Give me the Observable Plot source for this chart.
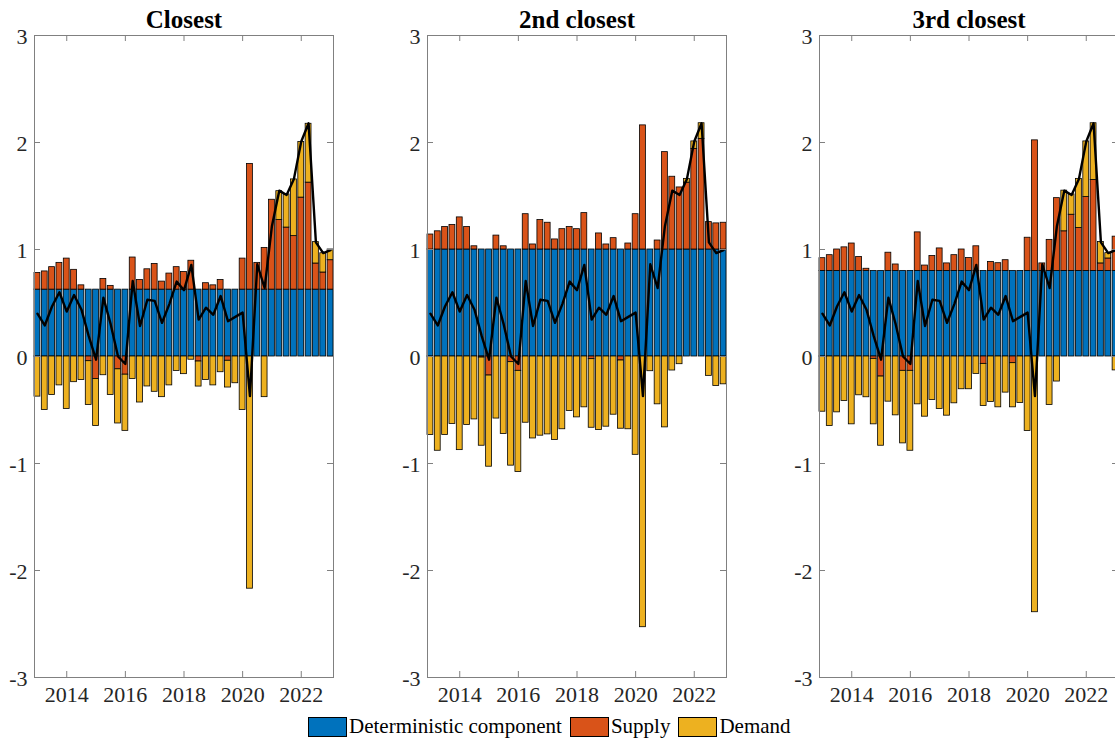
<!DOCTYPE html>
<html>
<head>
<meta charset="utf-8">
<script src="https://cdn.jsdelivr.net/npm/d3@7"></script>
<script src="https://cdn.jsdelivr.net/npm/@observablehq/plot@0.6"></script>
<style>
  body { margin: 0; overflow: hidden; background: #fff; }
  #fig { position: relative; width: 1115px; height: 740px; overflow: hidden; font-family: "Liberation Serif", "Times New Roman", serif; }
  .panel { position: absolute; top: 0; }
  #legend { position: absolute; left: 308px; top: 716px; display: flex; align-items: center; font-size: 21px; line-height: 21px; color: #000; white-space: nowrap; }
  .sw { width: 37px; height: 18px; border: 1px solid #000; }
  .lab { margin-left: 2px; margin-right: 8px; }
</style>
</head>
<body>
<div id="fig"></div>
<script>
// ---- data ----
const quarters = ["2013Q1","2013Q2","2013Q3","2013Q4","2014Q1","2014Q2","2014Q3","2014Q4",
  "2015Q1","2015Q2","2015Q3","2015Q4","2016Q1","2016Q2","2016Q3","2016Q4",
  "2017Q1","2017Q2","2017Q3","2017Q4","2018Q1","2018Q2","2018Q3","2018Q4",
  "2019Q1","2019Q2","2019Q3","2019Q4","2020Q1","2020Q2","2020Q3","2020Q4",
  "2021Q1","2021Q2","2021Q3","2021Q4","2022Q1","2022Q2","2022Q3","2022Q4","2023Q1"];

const total = [0.40, 0.29, 0.47, 0.60, 0.42, 0.575, 0.44, 0.19, -0.03, 0.55,
  0.30, 0.00, -0.07, 0.705, 0.285, 0.53, 0.52, 0.315, 0.49, 0.70,
  0.62, 0.856, 0.345, 0.456, 0.39, 0.565, 0.33, 0.37, 0.41, -0.37,
  0.862, 0.64, 1.22, 1.55, 1.51, 1.66, 2.01, 2.18, 1.066, 0.966, 0.994];

const titles = ["Closest", "2nd closest", "3rd closest"];
const deterministicLevels = [0.625, 1.0, 0.8];

const supplyClosest = [0.156, 0.17, 0.21, 0.25, 0.29, 0.185, 0.04, -0.044, -0.21, 0.10,
  0.035, -0.12, -0.17, 0.30, 0.09, 0.19, 0.24, 0.075, 0.15, 0.21,
  0.165, 0.27, -0.047, 0.06, 0.04, 0.09, -0.04, 0, 0.29, 1.175,
  0.25, 0.39, 0.84, 0.65, 0.58, 0.50, 0.86, 1.00, 0.244, 0.16, 0.275];
const demandClosest = [-0.375, -0.50, -0.36, -0.27, -0.49, -0.24, -0.22, -0.41, -0.44, -0.175,
  -0.36, -0.506, -0.525, -0.21, -0.43, -0.28, -0.33, -0.38, -0.27, -0.135,
  -0.165, -0.03, -0.234, -0.22, -0.27, -0.147, -0.25, -0.25, -0.50, -2.17,
  0, -0.38, 0, 0.27, 0.31, 0.53, 0.52, 0.55, 0.20, 0.18, 0.10];

const supply2nd = [0.14, 0.17, 0.21, 0.23, 0.30, 0.21, 0.03, -0.01, -0.178, 0.13,
  0.03, -0.053, -0.134, 0.33, 0.047, 0.275, 0.25, 0.094, 0.19, 0.21,
  0.19, 0.34, -0.025, 0.15, 0.047, 0.106, -0.0375, 0.056, 0.33, 1.16,
  0, 0.084, 0.91, 0.68, 0.58, 0.625, 0.94, 1.034, 0.256, 0.244, 0.25];
const demand2nd = [-0.734, -0.881, -0.734, -0.631, -0.875, -0.64, -0.588, -0.824, -0.852, -0.58,
  -0.725, -0.967, -0.946, -0.619, -0.766, -0.74, -0.728, -0.78, -0.68, -0.51,
  -0.569, -0.475, -0.641, -0.6875, -0.656, -0.544, -0.6375, -0.68, -0.919, -2.53,
  -0.1375, -0.447, -0.6625, -0.131, -0.072, 0.035, 0.07, 0.146, -0.181, -0.275, -0.26];

const supply3rd = [0.119, 0.147, 0.20, 0.22, 0.256, 0.13, 0.02, -0.022, -0.1875, 0.17,
  0.06, -0.134, -0.134, 0.36, 0.05, 0.14, 0.21, 0.07, 0.147, 0.20,
  0.12, 0.23, -0.069, 0.084, 0.072, 0.10, -0.0625, 0, 0.31, 1.22,
  0.07, 0.29, 0.68, 0.37, 0.525, 0.40, 0.69, 0.85, 0.07, 0.116, 0.32];
const demand3rd = [-0.516, -0.65, -0.522, -0.416, -0.634, -0.3625, -0.381, -0.612, -0.6465, -0.422,
  -0.55, -0.678, -0.747, -0.447, -0.5625, -0.406, -0.49, -0.553, -0.4375, -0.306,
  -0.306, -0.1625, -0.3935, -0.425, -0.475, -0.3375, -0.4125, -0.434, -0.697, -2.39,
  0, -0.453, -0.234, 0.38, 0.19, 0.46, 0.52, 0.53, 0.20, 0.05, -0.13];

const seriesNames = ["Deterministic component", "Supply", "Demand"];
const seriesColors = ["#0072BD", "#D95319", "#EDB120"];
const yTicks = [-3, -2, -1, 0, 1, 2, 3];
const xTicks = [2014, 2016, 2018, 2020, 2022];

const supplies = [supplyClosest, supply2nd, supply3rd];
const demands = [demandClosest, demand2nd, demand3rd];

// ---- drawing ----
const toYear = q => +q.slice(0, 4) + (+q.slice(5) - 1) / 4;
const axisColor = "#808080";
const labelColor = "#262626";
const serif = '"Liberation Serif", "Times New Roman", serif';

function makePanel(title, det, sup, dem) {
  const rows = [];
  quarters.forEach((q, i) => {
    const t = toYear(q);
    [[seriesNames[0], det], [seriesNames[1], sup[i]], [seriesNames[2], dem[i]]]
      .forEach(([s, v]) => { if (v !== 0) rows.push({t, s, v}); });
  });
  const lineData = quarters.map((q, i) => ({t: toYear(q), v: total[i]}));
  const W = 392, H = 740, mL = 34, mR = 59, mT = 35, mB = 63;
  const fw = W - mL - mR, fh = H - mT - mB;
  return Plot.plot({
    width: W, height: H,
    marginLeft: mL, marginRight: mR, marginTop: mT, marginBottom: mB,
    x: {domain: [2012.9, 2023.1], axis: null},
    y: {domain: [-3, 3], axis: null},
    color: {domain: seriesNames, range: seriesColors},
    style: {fontFamily: serif, fontSize: "22px", color: labelColor, background: "transparent", overflow: "visible"},
    marks: [
      Plot.rectY(rows, {x1: d => d.t - 0.1, x2: d => d.t + 0.1, y: "v", fill: "s", stroke: "#000", strokeWidth: 0.8}),
      Plot.line(lineData, {x: "t", y: "v", stroke: "#000", strokeWidth: 2.4}),
      Plot.frame({stroke: axisColor}),
      Plot.tickY(yTicks, {y: d => d, stroke: axisColor, insetRight: fw - 6}),
      Plot.tickY(yTicks, {y: d => d, stroke: axisColor, insetLeft: fw - 6}),
      Plot.tickX(xTicks, {x: d => d, stroke: axisColor, insetTop: fh - 6}),
      Plot.tickX(xTicks, {x: d => d, stroke: axisColor, insetBottom: fh - 6}),
      Plot.text(yTicks, {y: d => d, text: d => String(d), frameAnchor: "left", textAnchor: "end", lineAnchor: "middle", dx: -7, dy: 1, fontSize: 22, fill: labelColor, fontFamily: serif}),
      Plot.text(xTicks, {x: d => d, text: d => String(d), frameAnchor: "bottom", lineAnchor: "top", dy: 9, fontSize: 22, fill: labelColor, fontFamily: serif}),
      Plot.text([title], {frameAnchor: "top", lineAnchor: "bottom", dy: -8, fontSize: 25, fontWeight: "bold", fill: "#000", fontFamily: serif})
    ]
  });
}

const fig = document.getElementById("fig");
const offsets = [0, 393, 785];
titles.forEach((t, k) => {
  const svg = makePanel(t, deterministicLevels[k], supplies[k], demands[k]);
  svg.classList.add("panel");
  svg.style.left = offsets[k] + "px";
  fig.appendChild(svg);
});

const legend = document.createElement("div");
legend.id = "legend";
seriesNames.forEach((s, i) => {
  const sw = document.createElement("div");
  sw.className = "sw";
  sw.style.background = seriesColors[i];
  const lab = document.createElement("span");
  lab.className = "lab";
  lab.textContent = s;
  legend.appendChild(sw);
  legend.appendChild(lab);
});
fig.appendChild(legend);
</script>
</body>
</html>
